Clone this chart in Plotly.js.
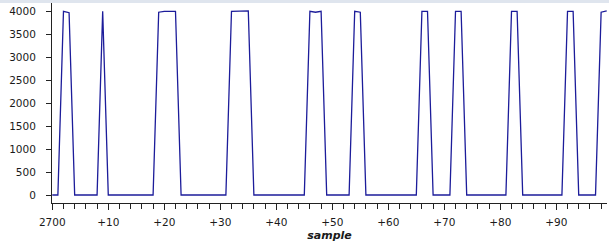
<!DOCTYPE html>
<html>
<head>
<meta charset="utf-8">
<script src="https://cdn.plot.ly/plotly-3.0.1.min.js"></script>
<style>
  html, body { margin: 0; padding: 0; background: #ffffff; }
  #chart { width: 609px; height: 242px; }
</style>
</head>
<body>
<div id="chart"></div>
<script>
// sample offsets from 2700
const sampleOffsets = [
  0,1,2,3,4,5,6,7,8,9,
  10,11,12,13,14,15,16,17,18,19,
  20,21,22,23,24,25,26,27,28,29,
  30,31,32,33,34,35,36,37,38,39,
  40,41,42,43,44,45,46,47,48,49,
  50,51,52,53,54,55,56,57,58,59,
  60,61,62,63,64,65,66,67,68,69,
  70,71,72,73,74,75,76,77,78,79,
  80,81,82,83,84,85,86,87,88,89,
  90,91,92,93,94,95,96,97,98,99
];
// signal values
const signalValues = [
  0,0,4000,3970,0,0,0,0,0,4000,
  0,0,0,0,0,0,0,0,0,3980,
  4000,4000,4000,0,0,0,0,0,0,0,
  0,0,4000,4000,4000,4010,0,0,0,0,
  0,0,0,0,0,0,4000,3980,4000,0,
  0,0,0,0,4000,3980,0,0,0,0,
  0,0,0,0,0,0,4000,4000,0,0,
  0,0,4000,4000,0,0,0,0,0,0,
  0,0,4000,4000,0,0,0,0,0,0,
  0,0,4000,4000,0,0,0,0,3980,4010
];
const xTickVals = [0,10,20,30,40,50,60,70,80,90];
const xTickText = ['2700','+10','+20','+30','+40','+50','+60','+70','+80','+90'];
const yTickVals = [0,500,1000,1500,2000,2500,3000,3500,4000];

const font = { family: 'DejaVu Sans, Verdana, sans-serif', size: 10.5, color: '#1a1a1a' };

Plotly.newPlot('chart', [{
  x: sampleOffsets,
  y: signalValues,
  type: 'scatter',
  mode: 'lines',
  line: { color: '#1c1c9a', width: 1.3, shape: 'linear' },
  hoverinfo: 'skip'
}], {
  width: 609,
  height: 242,
  margin: { l: 52, r: 2, t: 3, b: 39, pad: 0 },
  paper_bgcolor: '#ffffff',
  plot_bgcolor: '#ffffff',
  showlegend: false,
  font: font,
  xaxis: {
    range: [-0.05, 99.05],
    tickmode: 'array',
    tickvals: xTickVals,
    ticktext: xTickText,
    ticks: 'outside',
    ticklen: 6,
    tickcolor: '#222',
    tickwidth: 1,
    showline: true,
    linecolor: '#222',
    linewidth: 1,
    showgrid: false,
    zeroline: false,
    tickfont: font,
    ticklabelstandoff: 3,
    minor: { tickmode: 'linear', tick0: 0, dtick: 2, ticks: 'outside', ticklen: 5, tickcolor: '#222', showgrid: false },
    title: { text: '<b><i>sample</i></b>', font: { family: 'DejaVu Sans, Verdana, sans-serif', size: 11, color: '#1a1a1a' }, standoff: 9 }
  },
  yaxis: {
    range: [-174, 4181],
    tickmode: 'array',
    tickvals: yTickVals,
    ticks: 'outside',
    ticklen: 5,
    tickcolor: '#222',
    showline: true,
    linecolor: '#222',
    linewidth: 1,
    showgrid: false,
    zeroline: false,
    tickfont: font,
    ticklabelstandoff: 8
  },
  shapes: [{
    type: 'rect', xref: 'paper', yref: 'paper',
    x0: -0.1, x1: 1.01, y0: 1.0, y1: 1.02,
    fillcolor: '#dfe5ee', line: { width: 0 }, layer: 'above'
  }]
}, { staticPlot: true, displayModeBar: false });
</script>
</body>
</html>
